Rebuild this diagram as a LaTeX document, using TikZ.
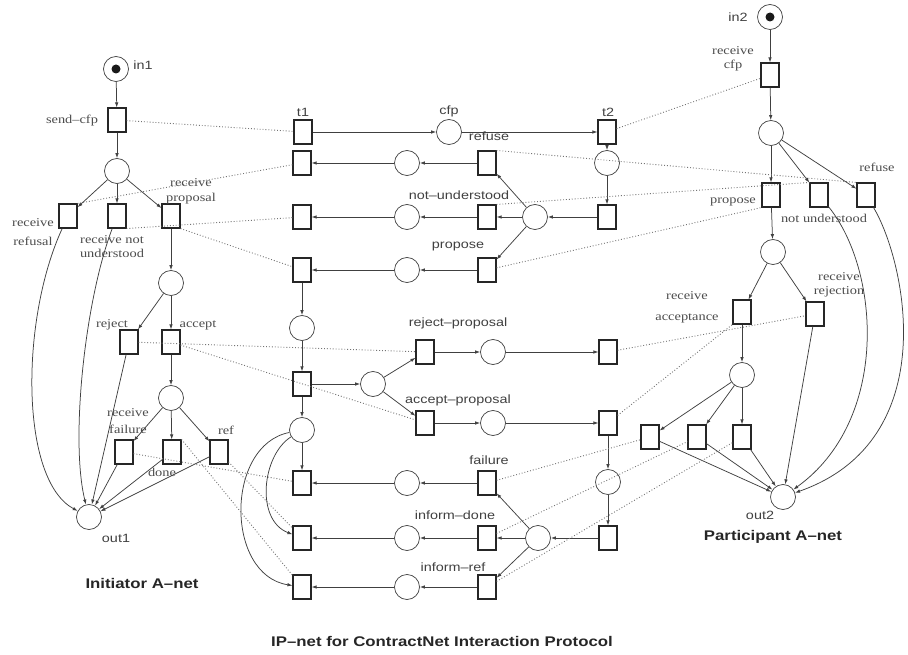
\documentclass[tikz,border=0pt]{standalone}
\usepackage{fontspec}
\newfontfamily\netserif{Liberation Serif}[FakeStretch=1.2]
\newfontfamily\netsans{Liberation Sans}[FakeStretch=1.2]
\usetikzlibrary{arrows.meta}

\begin{document}
\begin{tikzpicture}[x=1pt,y=-1pt,
    place/.style={circle,draw=black!75,line width=0.7pt,minimum size=25pt,inner sep=0pt},
    trans/.style={rectangle,draw=black!85,line width=1.1pt,minimum width=18pt,minimum height=24pt,inner sep=0pt},
    arc/.style={draw=black!75,line width=0.75pt,-{Latex[length=5pt,width=3.5pt]}},
    msg/.style={draw=black!55,line width=0.9pt,dotted},
    lab/.style={font=\netserif\fontsize{12}{14}\selectfont,text=black!70,align=center,inner sep=0pt},
    slab/.style={font=\netsans\fontsize{12}{14}\selectfont,text=black!75,inner sep=0pt},
    title/.style={font=\netsans\bfseries\fontsize{14}{16}\selectfont,text=black!85,inner sep=0pt}]
\useasboundingbox (0,0) rectangle (908,655);

% Initiator A-net
\node[place] (in1) at (116,69) {};
\fill[black!90] (in1) circle (4.5);
\node[trans] (sendcfp) at (117,120) {};
\node[place] (i1) at (117,171) {};
\node[trans] (rrefusal) at (68,216) {};
\node[trans] (rnotund) at (117,216) {};
\node[trans] (rproposal) at (171,216) {};
\node[place] (i2) at (171,283) {};
\node[trans] (reject) at (129,342) {};
\node[trans] (accept) at (171,342) {};
\node[place] (i3) at (171,398) {};
\node[trans] (rfailure) at (124,452) {};
\node[trans] (done) at (172,452) {};
\node[trans] (ref) at (219,452) {};
\node[place] (out1) at (89,517) {};

\node[slab] (in1lab) at (143,65) {in1};
\node[lab] (sendcfplab) at (72,121) {send–cfp};
\node[lab] (rrefusallab) at (33,232) {receive\\[5pt]refusal};
\node[lab] (rnotundlab) at (112,247) {receive not\\understood};
\node[lab] (rproposallab) at (191,191) {receive\\[1pt]proposal};
\node[lab] (rejectlab) at (112,325) {reject};
\node[lab] (acceptlab) at (198,325) {accept};
\node[lab] (rfailurelab) at (128,421) {receive\\[3pt]failure};
\node[lab] (donelab) at (162,472) {done};
\node[lab] (reflab) at (226,430) {ref};
\node[slab] (out1lab) at (116,538) {out1};
\node[title] (inittitle) at (142,583) {Initiator A–net};

\draw[arc] (in1) -- (sendcfp);
\draw[arc] (sendcfp) -- (i1);
\draw[arc] (i1) -- (rrefusal);
\draw[arc] (i1) -- (rnotund);
\draw[arc] (i1) -- (rproposal);
\draw[arc] (rproposal) -- (i2);
\draw[arc] (i2) -- (reject);
\draw[arc] (i2) -- (accept);
\draw[arc] (accept) -- (i3);
\draw[arc] (i3) -- (rfailure);
\draw[arc] (i3) -- (done);
\draw[arc] (i3) -- (ref);
\draw[arc] (rrefusal) .. controls (20,320) and (20,480) .. (out1);
\draw[arc] (rnotund) .. controls (85,300) and (70,440) .. (out1);
\draw[arc] (reject) -- (out1);
\draw[arc] (rfailure) -- (out1);
\draw[arc] (done) -- (out1);
\draw[arc] (ref) -- (out1);

% IP-net
\node[trans] (t1) at (303,132) {};
\node[place] (cfp) at (449,132) {};
\node[trans] (t2) at (607,132) {};
\node[place] (m1) at (607,163) {};
\node[trans] (m2) at (607,217) {};
\node[place] (fanA) at (535,217) {};
\node[place] (m3) at (302,328) {};
\node[trans] (m4) at (302,384) {};
\node[place] (fanB) at (373,384) {};
\node[place] (m5) at (302,430) {};
\node[place] (m6) at (608,482) {};
\node[trans] (m7) at (608,538) {};
\node[place] (fanC) at (538,538) {};
\foreach \n/\y in {refuse/163,notund/217,propose/270,failure/483,infdone/538,infref/587}{
  \node[trans] (\n-r) at (487,\y) {};
  \node[place] (\n-p) at (407,\y) {};
  \node[trans] (\n-l) at (302,\y) {};
  \draw[arc] (\n-r) -- (\n-p);
  \draw[arc] (\n-p) -- (\n-l);
}
\foreach \n/\y in {rejprop/352,accprop/423}{
  \node[trans] (\n-l) at (425,\y) {};
  \node[place] (\n-p) at (493,\y) {};
  \node[trans] (\n-r) at (608,\y) {};
  \draw[arc] (\n-l) -- (\n-p);
  \draw[arc] (\n-p) -- (\n-r);
}

\node[slab] (t1lab) at (303,112) {t1};
\node[slab] (cfplab) at (449,111) {cfp};
\node[slab] (t2lab) at (608,112) {t2};
\node[slab] (refuselab) at (489,136) {refuse};
\node[slab] (notundlab) at (459,195) {not–understood};
\node[slab] (proposelab) at (458,247) {propose};
\node[slab] (rejproplab) at (458,323) {reject–proposal};
\node[slab] (accproplab) at (458,400) {accept–proposal};
\node[slab] (failurelab) at (489,460) {failure};
\node[slab] (infdonelab) at (455,515) {inform–done};
\node[slab] (infreflab) at (453,567) {inform–ref};
\node[title] (iptitle) at (442,641) {IP–net for ContractNet Interaction Protocol};

\draw[arc] (t1) -- (cfp);
\draw[arc] (cfp) -- (t2);
\draw[arc] (t2) -- (m1);
\draw[arc] (m1) -- (m2);
\draw[arc] (m2) -- (fanA);
\draw[arc] (fanA) -- (refuse-r);
\draw[arc] (fanA) -- (notund-r);
\draw[arc] (fanA) -- (propose-r);
\draw[arc] (propose-l) -- (m3);
\draw[arc] (m3) -- (m4);
\draw[arc] (m4) -- (m5);
\draw[arc] (m4) -- (fanB);
\draw[arc] (fanB) -- (rejprop-l);
\draw[arc] (fanB) -- (accprop-l);
\draw[arc] (m5) -- (failure-l);
\draw[arc] (m5) .. controls (262,455) and (255,520) .. (infdone-l);
\draw[arc] (m5) .. controls (225,445) and (225,575) .. (infref-l);
\draw[arc] (accprop-r) -- (m6);
\draw[arc] (m6) -- (m7);
\draw[arc] (m7) -- (fanC);
\draw[arc] (fanC) -- (failure-r);
\draw[arc] (fanC) -- (infdone-r);
\draw[arc] (fanC) -- (infref-r);

% Participant A-net
\node[place] (in2) at (770,17) {};
\fill[black!90] (in2) circle (4.5);
\node[trans] (rcfp) at (770,75) {};
\node[place] (q1) at (771,133) {};
\node[trans] (ppropose) at (771,195) {};
\node[trans] (pnotund) at (819,195) {};
\node[trans] (prefuse) at (866,195) {};
\node[place] (q2) at (773,252) {};
\node[trans] (racc) at (742,312) {};
\node[trans] (rrej) at (815,314) {};
\node[place] (q3) at (742,375) {};
\node[trans] (pfailure) at (650,437) {};
\node[trans] (pdone) at (697,437) {};
\node[trans] (pref) at (742,437) {};
\node[place] (out2) at (783,497) {};

\node[slab] (in2lab) at (738,17) {in2};
\node[lab] (rcfplab) at (733,59) {receive\\cfp};
\node[lab] (pproposelab) at (733,202) {propose};
\node[lab] (pnotundlab) at (824,218) {not understood};
\node[lab] (prefuselab) at (877,167) {refuse};
\node[lab] (racclab) at (687,307) {receive\\[7pt]acceptance};
\node[lab] (rrejlab) at (839,285) {receive\\rejection};
\node[slab] (out2lab) at (760,515) {out2};
\node[title] (parttitle) at (773,537) {Participant A–net};

\draw[arc] (in2) -- (rcfp);
\draw[arc] (rcfp) -- (q1);
\draw[arc] (q1) -- (ppropose);
\draw[arc] (q1) -- (pnotund);
\draw[arc] (q1) -- (prefuse);
\draw[arc] (ppropose) -- (q2);
\draw[arc] (q2) -- (racc);
\draw[arc] (q2) -- (rrej);
\draw[arc] (racc) -- (q3);
\draw[arc] (q3) -- (pfailure);
\draw[arc] (q3) -- (pdone);
\draw[arc] (q3) -- (pref);
\draw[arc] (pfailure) -- (out2);
\draw[arc] (pdone) -- (out2);
\draw[arc] (pref) -- (out2);
\draw[arc] (rrej) -- (out2);
\draw[arc] (pnotund) .. controls (880,270) and (890,420) .. (out2);
\draw[arc] (prefuse) .. controls (905,260) and (945,440) .. (out2);

% message links
\draw[msg] (sendcfp) -- (t1);
\draw[msg] (t2) -- (rcfp);
\draw[msg] (rrefusal.north east) -- (refuse-l);
\draw[msg] (rnotund.south east) -- (notund-l);
\draw[msg] (rproposal.south east) -- (propose-l);
\draw[msg] (reject) -- (rejprop-l);
\draw[msg] (accept) -- (accprop-l);
\draw[msg] (rfailure) -- (failure-l);
\draw[msg] (done.north east) -- (infref-l);
\draw[msg] (ref) -- (infdone-l);
\draw[msg] (refuse-r.north east) -- (prefuse.north west);
\draw[msg] (notund-r.north east) -- (pnotund.north west);
\draw[msg] (propose-r) -- (ppropose.south west);
\draw[msg] (rejprop-r) -- (rrej);
\draw[msg] (accprop-r) -- (racc.south west);
\draw[msg] (failure-r) -- (pfailure);
\draw[msg] (infdone-r) -- (pdone);
\draw[msg] (infref-r) -- (pref);
\end{tikzpicture}
\end{document}
